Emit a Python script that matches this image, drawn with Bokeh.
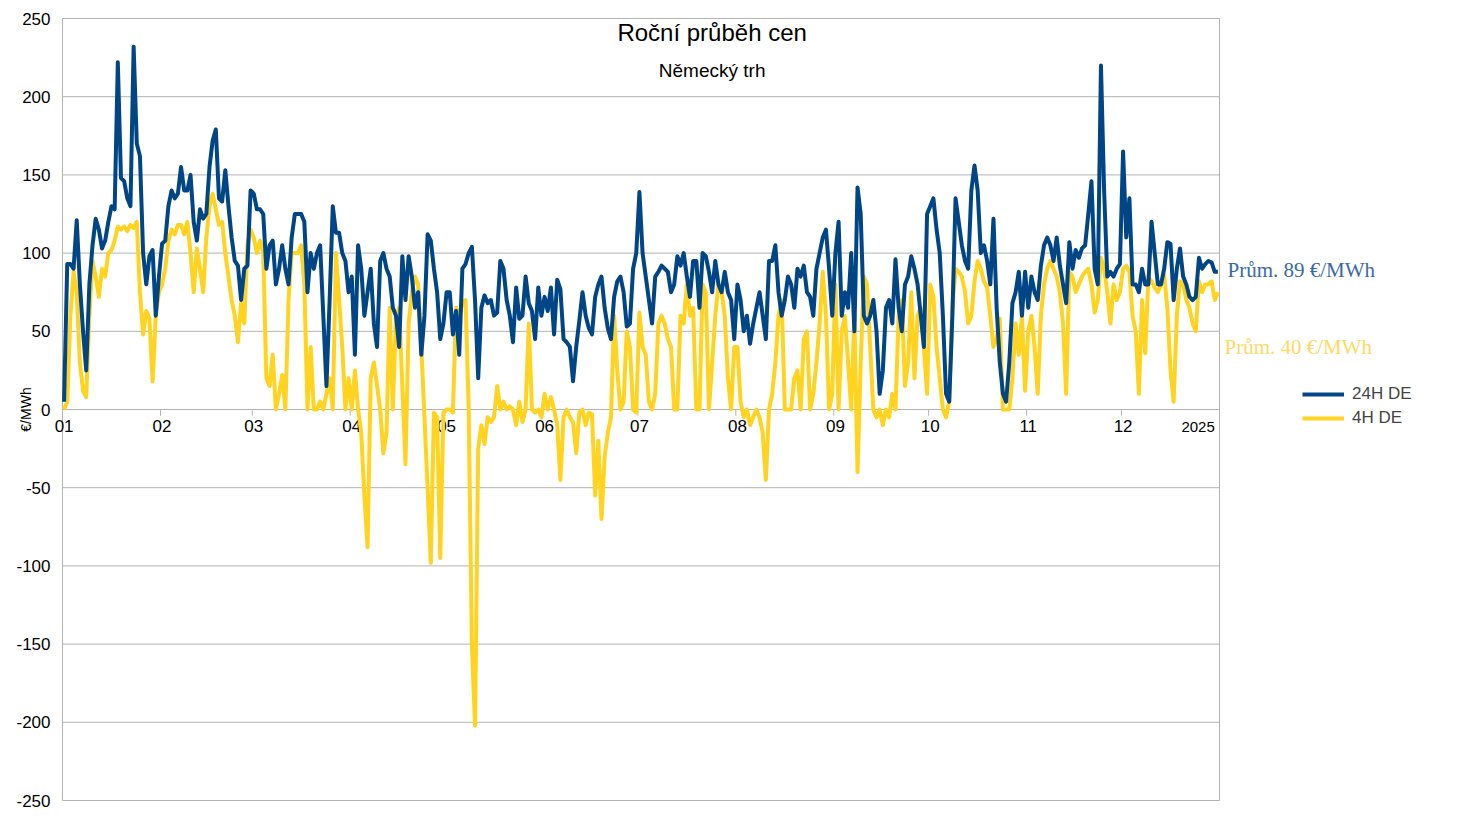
import math
from bokeh.plotting import figure
from bokeh.models import Label, Legend, LegendItem, Range1d
from bokeh.core.properties import value
from bokeh.embed import file_html
from bokeh.resources import INLINE

month_days = [31, 29, 31, 30, 31, 30, 31, 31, 30, 31, 30, 31]
month_labels = ["01", "02", "03", "04", "05", "06", "07", "08", "09", "10", "11", "12"]
year_label = "2025"
y_ticks = [-250, -200, -150, -100, -50, 0, 50, 100, 150, 200, 250]
avg_24h = 89
avg_4h = 40

b_jan = [5,93,93,90,121,80,50,25,80,105,122,115,103,108,120,130,128,222,148,146,135,130,232,170,162,100,80,98,102,60,85]
y_jan = [0,5,60,88,75,30,12,8,60,95,85,72,90,85,100,102,108,117,115,117,114,118,116,120,75,48,63,58,18,60,75]
b_feb = [106,108,130,140,135,138,155,140,140,150,120,108,128,122,125,155,172,179,135,133,153,130,110,95,92,70,90,92,140]
y_feb = [80,90,108,115,112,118,118,112,120,100,75,103,90,75,110,130,138,128,118,120,100,85,70,60,43,68,55,105,115]
b_mar = [138,128,128,125,90,105,108,80,90,105,90,80,110,125,125,125,120,75,100,90,100,105,60,15,70,130,113,113,100,95,75]
y_mar = [110,100,108,100,20,15,35,0,10,22,0,70,100,100,100,105,80,0,40,0,0,5,0,10,20,0,100,70,40,0,20]
b_apr = [85,35,105,90,60,75,90,55,40,95,100,90,85,65,60,40,98,70,98,85,65,75,35,60,112,108,90,75,45,55]
y_apr = [0,25,0,-15,-55,-88,20,30,15,0,-28,-15,65,0,60,65,15,-35,55,75,85,80,40,-5,-50,-98,-2,-5,-95,-2]
b_may = [75,75,48,63,35,90,93,100,104,70,20,65,73,68,70,60,62,95,90,70,60,43,78,58,60,85,68,63,45,78,60]
y_may = [0,0,-2,65,60,68,70,0,-150,-202,-25,-10,-22,-5,-8,-5,15,0,5,0,2,0,-10,5,-8,0,55,0,-2,0,-5]
b_jun = [72,63,78,48,83,77,45,43,40,18,40,57,75,60,52,48,72,80,85,65,52,45,72,82,85,75,53,55,90,100]
y_jun = [10,0,8,0,-10,-45,-5,0,-5,-8,-28,-2,0,-10,-2,-3,-55,-20,-70,-30,-15,-5,60,25,0,5,50,40,0,-2]
b_jul = [139,100,85,70,55,85,88,92,90,88,75,80,98,92,100,85,72,95,95,65,100,98,88,75,95,80,75,88,75,70,45]
y_jul = [62,40,35,5,0,10,55,60,55,45,40,0,0,60,55,80,60,65,0,0,80,75,0,30,60,80,75,60,20,0,40]
b_aug = [80,70,50,60,42,55,65,75,60,45,95,95,105,75,60,70,85,80,65,90,85,92,75,72,60,90,100,110,115,90,60]
y_aug = [40,5,-5,0,-10,-5,0,-5,-15,-45,0,10,30,60,70,0,0,0,20,25,0,45,50,0,10,30,55,88,60,0,10]
b_sep = [100,120,60,75,65,100,50,142,125,60,55,60,70,50,10,25,65,70,55,96,65,50,80,85,98,90,80,60,40,125]
y_sep = [80,0,50,60,30,0,60,-40,30,85,80,40,0,-5,0,-10,0,-5,10,0,60,70,15,30,75,20,60,65,40,10]
b_oct = [130,135,115,100,60,10,5,60,135,120,105,95,90,140,156,140,100,105,95,80,122,65,30,10,5,30,68,75,88,60,88]
y_oct = [80,72,40,20,0,-5,5,65,90,88,85,75,55,60,82,95,90,82,78,60,40,45,58,0,0,0,20,55,35,60,12]
b_nov = [65,85,75,70,92,105,110,105,95,110,92,80,68,107,90,102,97,103,105,125,146,90,80,220,140,85,88,85,90,93]
y_nov = [50,60,40,10,60,80,90,95,90,85,75,55,10,88,85,75,80,85,88,90,80,62,70,97,90,75,55,80,70,75]
b_dec = [165,110,135,80,80,75,90,80,80,120,100,80,80,90,107,106,70,90,103,85,80,72,70,72,97,90,93,95,94,88,88]
y_dec = [90,92,88,60,50,10,70,36,85,82,78,75,80,86,65,25,5,60,82,80,70,65,55,50,82,75,80,80,82,70,75]

s24 = b_jan+b_feb+b_mar+b_apr+b_may+b_jun+b_jul+b_aug+b_sep+b_oct+b_nov+b_dec
s4 = y_jan+y_feb+y_mar+y_apr+y_may+y_jun+y_jul+y_aug+y_sep+y_oct+y_nov+y_dec
x24 = list(range(len(s24)))
x4 = list(range(len(s4)))

starts = [0]
for d in month_days:
    starts.append(starts[-1] + d)
total = starts[-1]

BLUE = "#004586"
YELLOW = "#ffd320"
GRID = "#b3b3b3"

W, H = 1445, 821
# data area occupies page px 70..1227 horizontally, 26..808 vertically
x0d, x1d = -0.5, total - 0.5
pxd = (1227 - 70) / (x1d - x0d)
pyu = (808 - 26) / 500.0
xr = Range1d(x0d - (70 - 8) / pxd, x1d + (8 + W - 1227) / pxd)
yr = Range1d(-250 - (8 + H - 808) / pyu, 250 + (26 - 8) / pyu)

p = figure(width=W, height=H, output_backend="svg", toolbar_location=None,
           x_range=xr, y_range=yr, min_border=0)
p.axis.visible = False
p.grid.visible = False
p.outline_line_color = None

# gridlines and frame
p.segment(x0=[x0d]*len(y_ticks), x1=[x1d]*len(y_ticks), y0=y_ticks, y1=y_ticks, line_color=GRID, line_width=1)
p.segment(x0=[x0d, x1d], x1=[x0d, x1d], y0=[-250, -250], y1=[250, 250], line_color=GRID, line_width=1)
p.text(x=[x0d]*len(y_ticks), y=y_ticks, text=[str(t) for t in y_ticks], text_align="right",
       text_baseline="middle", x_offset=-12, text_font=value("Liberation Sans"),
       text_font_size="17px", text_color="#000000")
p.text(x=[x0d - (70 - 33) / pxd], y=[0], text=["€/MWh"], angle=math.pi/2, text_align="center",
       text_baseline="middle", text_font=value("Liberation Sans"), text_font_size="14px", text_color="#000000")

tick_x = [s - 0.5 for s in starts]
p.segment(x0=tick_x, x1=tick_x, y0=[0]*len(tick_x), y1=[-4]*len(tick_x), line_color=GRID, line_width=1)
p.text(x=[s for s in starts[:-1]], y=[0]*12, text=month_labels, text_align="center",
       text_baseline="top", y_offset=10, text_font=value("Liberation Sans"),
       text_font_size="17px", text_color="#000000")
p.text(x=[total - 2], y=[0], text=[year_label], text_align="right", text_baseline="top",
       y_offset=12, text_font=value("Liberation Sans"), text_font_size="15px", text_color="#000000")

r4 = p.line(x4, s4, line_color=YELLOW, line_width=4, line_join="round")
r24 = p.line(x24, s24, line_color=BLUE, line_width=4, line_join="round")

p.add_layout(Label(x=205, y=241, text="Roční průběh cen", text_align="center", text_baseline="middle",
                   text_font="Liberation Sans", text_font_size="24px", text_color="#000000"))
p.add_layout(Label(x=205, y=216.5, text="Německý trh", text_align="center", text_baseline="middle",
                   text_font="Liberation Sans", text_font_size="19px", text_color="#000000"))
p.add_layout(Label(x=x1d + (1235 - 1227) / pxd, y=avg_24h, text="Prům. %d €/MWh" % avg_24h, text_baseline="middle",
                   text_font="Liberation Serif", text_font_size="21px", text_color="#3a6aa6"))
p.add_layout(Label(x=x1d + (1232 - 1227) / pxd, y=avg_4h, text="Prům. %d €/MWh" % avg_4h, text_baseline="middle",
                   text_font="Liberation Serif", text_font_size="21px", text_color="#ffd966"))

legend = Legend(items=[LegendItem(label="24H DE", renderers=[r24]), LegendItem(label="4H DE", renderers=[r4])],
                location=(1298, H - 440 + 8), background_fill_alpha=0, border_line_alpha=0,
                label_text_font="Liberation Sans", label_text_font_size="17px",
                glyph_width=42, spacing=4, label_standoff=8, padding=4)
p.add_layout(legend)

open("out.html", "w").write(file_html(p, INLINE))
